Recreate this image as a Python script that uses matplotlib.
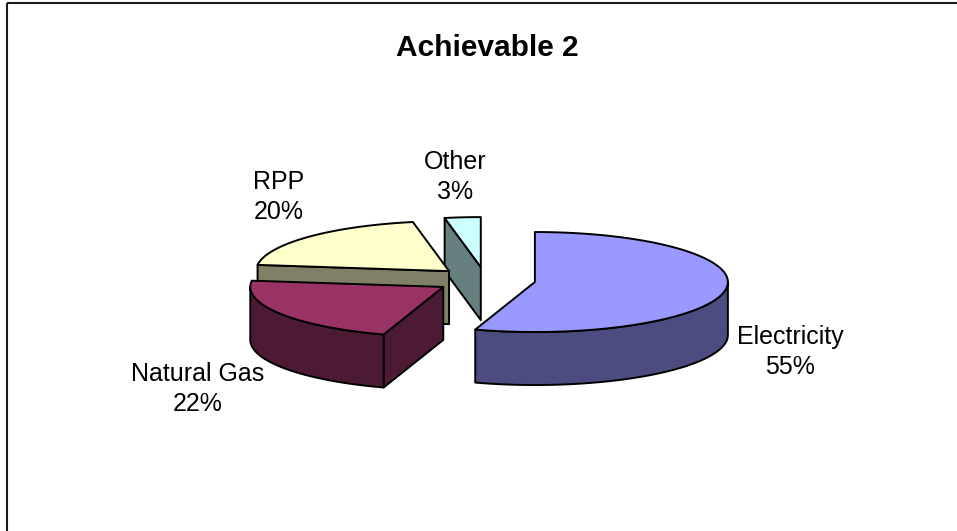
import numpy as np
import matplotlib
matplotlib.use("Agg")
import matplotlib.pyplot as plt
from matplotlib.patches import Polygon

# Data
categories = ["Electricity", "Natural Gas", "RPP", "Other"]
values = [55, 22, 20, 3]
title = "Achievable 2"

# Styles
top_colors = ["#9999FF", "#993366", "#FFFFCC", "#CCFFFF"]
side_colors = ["#4C4C80", "#4D1A33", "#808066", "#668080"]

# 3D pie geometry (pixel space)
W, H = 957, 531
cx, cy = 485.5, 280.0
rx, ry = 193.0, 50.0
depth = 53.0
explode = 50.0
label_pos = [(790, 352), (198, 389), (279, 197), (455, 177)]

fig = plt.figure(figsize=(W / 100, H / 100), dpi=100)
ax = fig.add_axes([0, 0, 1, 1])
ax.set_xlim(0, W)
ax.set_ylim(H, 0)
ax.axis("off")

plt.rcParams["font.family"] = ["Liberation Sans", "DejaVu Sans"]

EDGE = dict(edgecolor="black", linewidth=1.4, joinstyle="round")


def rim(x0, y0, th):
    t = np.radians(th)
    return np.column_stack([x0 + rx * np.sin(t), y0 - ry * np.cos(t)])


total = float(sum(values))
fracs = [v / total for v in values]
starts = np.concatenate([[0], np.cumsum(fracs)[:-1]]) * 360
ends = np.cumsum(fracs) * 360

slices = []
for i, (a0, a1) in enumerate(zip(starts, ends)):
    mid = np.radians((a0 + a1) / 2)
    sx = cx + explode * np.sin(mid)
    sy = cy - explode * (ry / rx) * np.cos(mid)
    slices.append((sy, i, sx, a0, a1))

# back-to-front painting
for sy, i, sx, a0, a1 in sorted(slices):
    # radial cut faces facing the viewer
    for th, visible in ((a0, np.sin(np.radians(a0)) < -1e-9),
                        (a1, np.sin(np.radians(a1)) > 1e-9)):
        if visible:
            p = rim(sx, sy, np.array([th]))[0]
            quad = [(sx, sy), tuple(p), (p[0], p[1] + depth), (sx, sy + depth)]
            ax.add_patch(Polygon(quad, closed=True, facecolor=side_colors[i], **EDGE))
    # outer side over the front half of the rim
    lo, hi = max(a0, 90), min(a1, 270)
    if hi > lo:
        th = np.linspace(lo, hi, 120)
        top = rim(sx, sy, th)
        bot = top.copy()
        bot[:, 1] += depth
        poly = np.vstack([top, bot[::-1]])
        ax.add_patch(Polygon(poly, closed=True, facecolor=side_colors[i], **EDGE))
    # top face
    th = np.linspace(a0, a1, 200)
    arc = rim(sx, sy, th)
    poly = np.vstack([[sx, sy], arc])
    ax.add_patch(Polygon(poly, closed=True, facecolor=top_colors[i], **EDGE))

# data labels
for i, (lx, ly) in enumerate(label_pos):
    pct = round(fracs[i] * 100)
    ax.text(lx, ly, f"{categories[i]}\n{pct}%", ha="center", va="center",
            fontsize=18, linespacing=1.3, color="black")

ax.text(487, 48, title, ha="center", va="center", fontsize=21.5,
        fontweight="bold", color="black")

# chart area border (top and left edges)
ax.plot([7, W], [2.5, 2.5], color="#1a1a1a", lw=1.5, solid_capstyle="butt")
ax.plot([7, 7], [2.5, H], color="#1a1a1a", lw=1.5, solid_capstyle="butt")

fig.savefig("out.png", dpi=100)
